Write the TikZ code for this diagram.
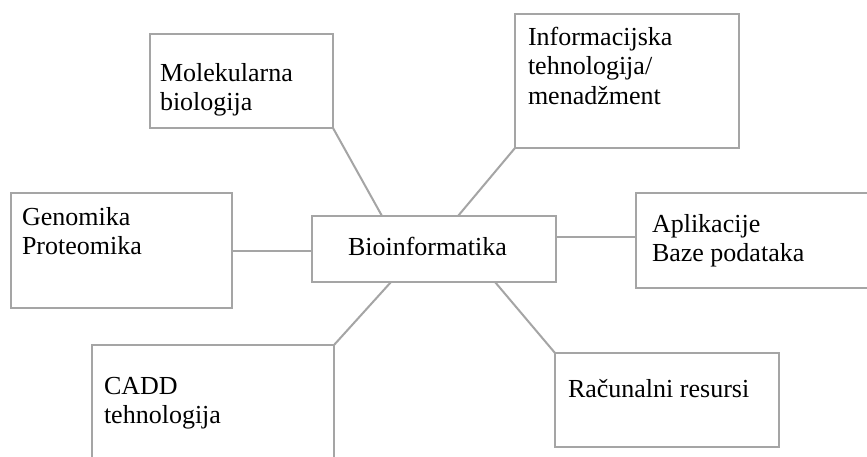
\documentclass[tikz,border=0pt]{standalone}
\usepackage{fontspec}
\setmainfont{Liberation Serif}
\definecolor{linegray}{RGB}{165,165,165}
\tikzset{
  box/.style={draw=linegray, line width=2pt, rectangle, inner sep=0pt, outer sep=0pt, fill=white},
  conn/.style={draw=linegray, line width=2pt},
  lbl/.style={inner sep=0pt, outer sep=0pt, align=left, text=black, font=\fontsize{26}{29.5}\selectfont},
}
\begin{document}
\begin{tikzpicture}[x=1pt,y=-1pt]
\useasboundingbox (0,0) rectangle (867,456);
\clip (0,0) rectangle (867,456);
\fill[white] (0,0) rectangle (867,456);
% boxes
\node[box, anchor=north west, minimum width=183pt, minimum height=94pt] (mol) at (150,34) {};
\node[box, anchor=north west, minimum width=224pt, minimum height=134pt] (inf) at (515,14) {};
\node[box, anchor=north west, minimum width=221pt, minimum height=115pt] (gen) at (11,193) {};
\node[box, anchor=north west, minimum width=244pt, minimum height=66pt] (bio) at (312,216) {};
\node[box, anchor=north west, minimum width=250pt, minimum height=95pt] (apl) at (636,193) {};
\node[box, anchor=north west, minimum width=242pt, minimum height=140pt] (cadd) at (92,345) {};
\node[box, anchor=north west, minimum width=224pt, minimum height=94pt] (rac) at (555,353) {};
% attachment points on the central box
\coordinate (bmol) at (382,216);
\coordinate (binf) at (458,216);
\coordinate (bgen) at (312,251);
\coordinate (bapl) at (556,237);
\coordinate (bcadd) at (391,282);
\coordinate (brac) at (495,282);
\coordinate (genr) at (232,251);
\coordinate (apll) at (636,237);
% connectors
\draw[conn] (mol.south east) -- (bmol);
\draw[conn] (inf.south west) -- (binf);
\draw[conn] (genr) -- (bgen);
\draw[conn] (bapl) -- (apll);
\draw[conn] (cadd.north east) -- (bcadd);
\draw[conn] (rac.north west) -- (brac);
% texts
\node[lbl, anchor=north west] (tmol) at (160,63) {Molekularna\\biologija};
\node[lbl, anchor=north west] (tinf) at (528,27) {Informacijska\\tehnologija/\\menadžment};
\node[lbl, anchor=north west] (tgen) at (22,207) {Genomika\\Proteomika};
\node[lbl, anchor=base west] (tbio) at (348,255) {Bioinformatika};
\node[lbl, anchor=north west] (tapl) at (652,214) {Aplikacije\\Baze podataka};
\node[lbl, anchor=north west] (tcadd) at (104,377) {CADD\\tehnologija};
\node[lbl, anchor=base west] (trac) at (568,397) {Računalni resursi};
\end{tikzpicture}
\end{document}
